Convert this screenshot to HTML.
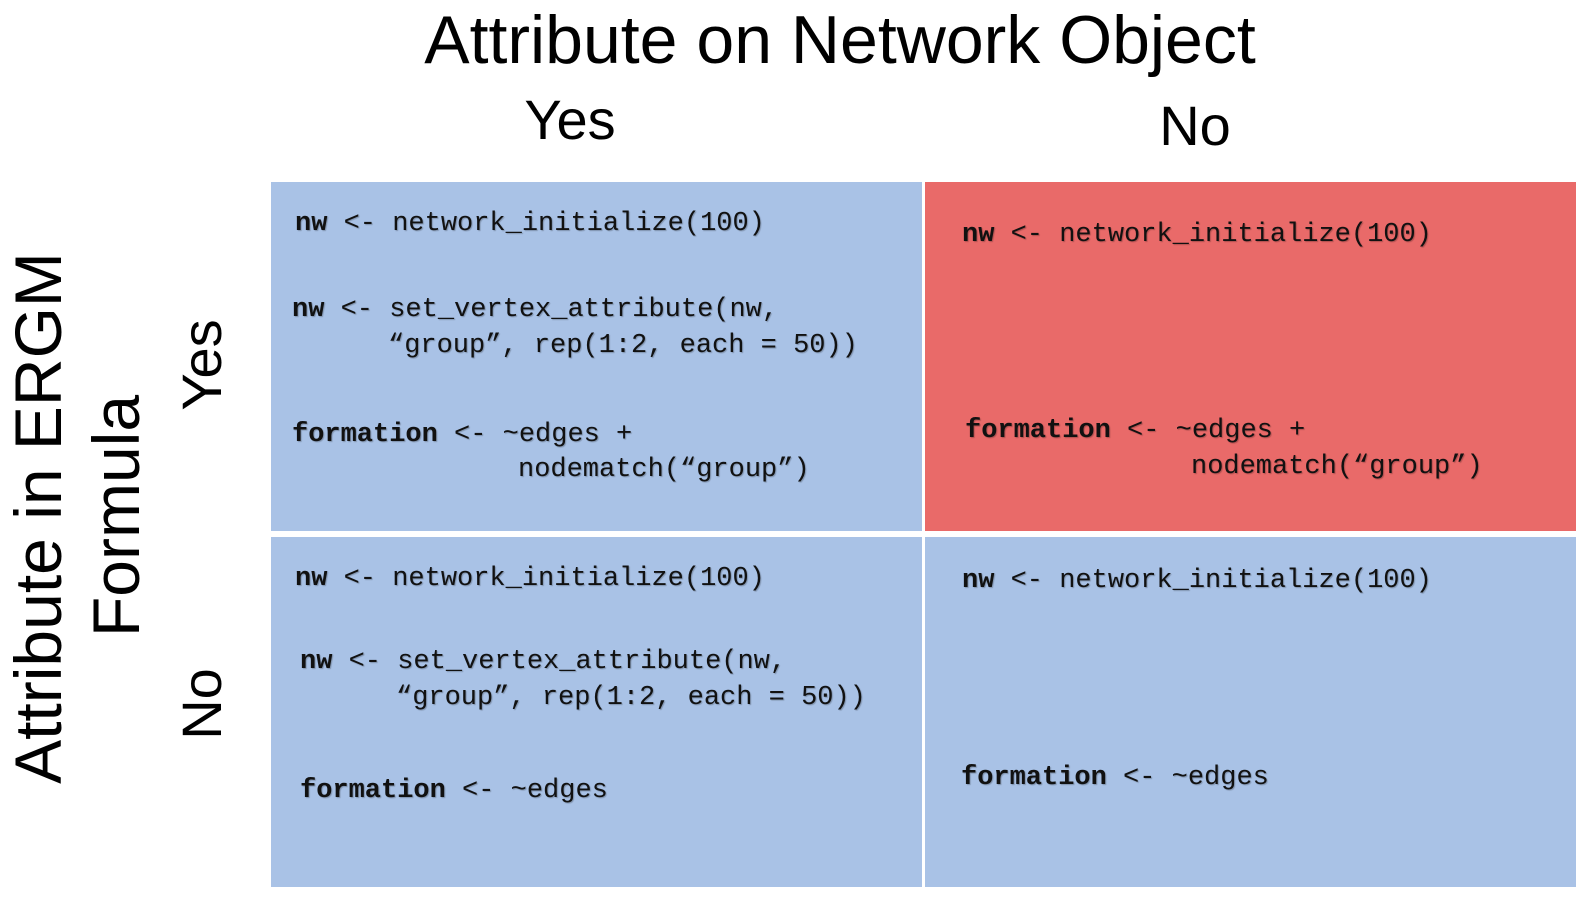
<!DOCTYPE html>
<html><head><meta charset="utf-8"><style>
body{margin:0;width:1591px;height:921px;background:#fff;position:relative;overflow:hidden;font-family:"Liberation Sans",sans-serif}
.c{position:absolute}
.b{background:#a9c2e6}.r{background:#e96a69}
.t{position:absolute;white-space:pre;font-family:"Liberation Mono",monospace;font-size:27px;line-height:30px;color:#111;text-shadow:1px 1px 1px rgba(0,0,0,0.25)}
.t b{font-weight:bold}
.h{position:absolute;white-space:nowrap;color:#000;line-height:1}
.rot{position:absolute;white-space:nowrap;transform:translate(-50%,-50%) rotate(-90deg);line-height:1;color:#000}
</style></head><body>
<div class="c b" style="left:271px;top:182px;width:651px;height:349px"></div>
<div class="c r" style="left:925px;top:182px;width:651px;height:349px"></div>
<div class="c b" style="left:271px;top:537px;width:651px;height:350px"></div>
<div class="c b" style="left:925px;top:537px;width:651px;height:350px"></div>

<div class="h" style="left:420px;top:6px;font-size:68px;width:840px;text-align:center">Attribute on Network Object</div>
<div class="h" style="left:500px;top:92px;font-size:56px;width:140px;text-align:center">Yes</div>
<div class="h" style="left:1130px;top:98px;font-size:56px;width:130px;text-align:center">No</div>

<div class="rot" style="left:38px;top:518px;font-size:66px">Attribute in ERGM</div>
<div class="rot" style="left:116px;top:516px;font-size:66px">Formula</div>
<div class="rot" style="left:202px;top:365px;font-size:56px">Yes</div>
<div class="rot" style="left:202px;top:704px;font-size:56px">No</div>

<div class="t" style="left:295px;top:209px"><b>nw</b> &lt;- network_initialize(100)</div>
<div class="t" style="left:292px;top:295px"><b>nw</b> &lt;- set_vertex_attribute(nw,</div>
<div class="t" style="left:388px;top:331px">“group”, rep(1:2, each = 50))</div>
<div class="t" style="left:292px;top:420px"><b>formation</b> &lt;- ~edges +</div>
<div class="t" style="left:518px;top:455px">nodematch(“group”)</div>

<div class="t" style="left:962px;top:220px"><b>nw</b> &lt;- network_initialize(100)</div>
<div class="t" style="left:965px;top:416px"><b>formation</b> &lt;- ~edges +</div>
<div class="t" style="left:1191px;top:452px">nodematch(“group”)</div>

<div class="t" style="left:295px;top:564px"><b>nw</b> &lt;- network_initialize(100)</div>
<div class="t" style="left:300px;top:647px"><b>nw</b> &lt;- set_vertex_attribute(nw,</div>
<div class="t" style="left:396px;top:683px">“group”, rep(1:2, each = 50))</div>
<div class="t" style="left:300px;top:776px"><b>formation</b> &lt;- ~edges</div>

<div class="t" style="left:962px;top:566px"><b>nw</b> &lt;- network_initialize(100)</div>
<div class="t" style="left:961px;top:763px"><b>formation</b> &lt;- ~edges</div>
</body></html>
